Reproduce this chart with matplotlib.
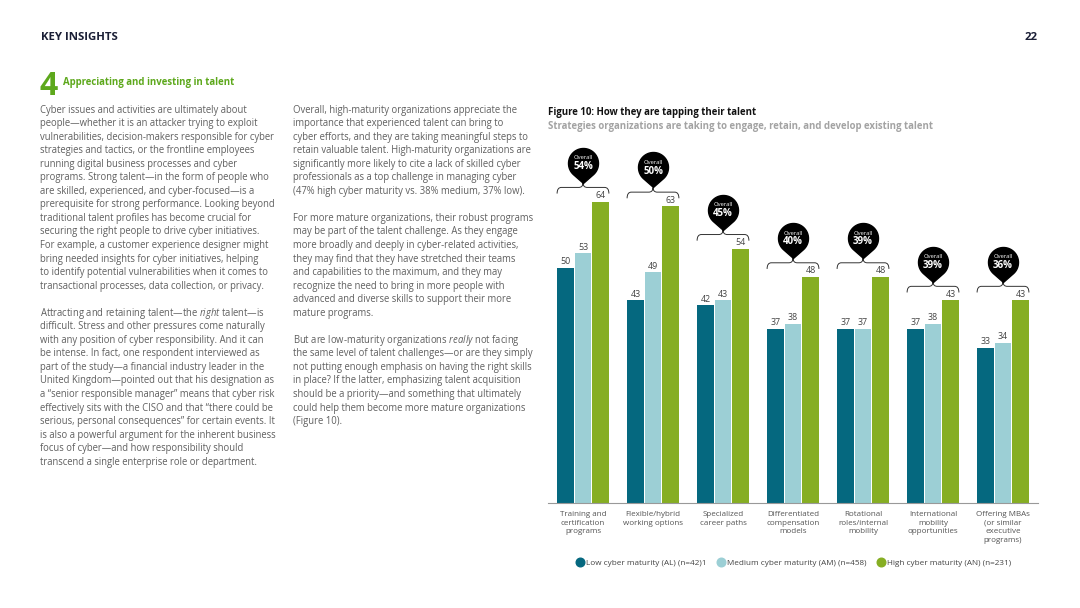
import numpy as np
import matplotlib.pyplot as plt
from matplotlib.path import Path
from matplotlib.patches import PathPatch
from matplotlib.lines import Line2D

plt.rcParams['font.family'] = ['Open Sans', 'DejaVu Sans']
plt.rcParams['mathtext.fontset'] = 'custom'
plt.rcParams['mathtext.rm'] = 'Open Sans'
plt.rcParams['mathtext.it'] = 'Open Sans:italic'

# chart data
categories = ["Training and\ncertification\nprograms",
              "Flexible/hybrid\nworking options",
              "Specialized\ncareer paths",
              "Differentiated\ncompensation\nmodels",
              "Rotational\nroles/internal\nmobility",
              "International\nmobility\nopportunities",
              "Offering MBAs\n(or similar\nexecutive\nprograms)"]
low = [50, 43, 42, 37, 37, 37, 33]
medium = [53, 49, 43, 38, 37, 38, 34]
high = [64, 63, 54, 48, 48, 43, 43]
overall = [54, 50, 45, 40, 39, 39, 36]
series_names = ["Low cyber maturity (AL) (n=42)1",
                "Medium cyber maturity (AM) (n=458)",
                "High cyber maturity (AN) (n=231)"]
colors = ['#05687f', '#9ccfd5', '#86ae23']

col1 = ["Cyber issues and activities are ultimately about",
        "people\u2014whether it is an attacker trying to exploit",
        "vulnerabilities, decision-makers responsible for cyber",
        "strategies and tactics, or the frontline employees",
        "running digital business processes and cyber",
        "programs. Strong talent\u2014in the form of people who",
        "are skilled, experienced, and cyber-focused\u2014is a",
        "prerequisite for strong performance. Looking beyond",
        "traditional talent profiles has become crucial for",
        "securing the right people to drive cyber initiatives.",
        "For example, a customer experience designer might",
        "bring needed insights for cyber initiatives, helping",
        "to identify potential vulnerabilities when it comes to",
        "transactional processes, data collection, or privacy.",
        "",
        "Attracting and retaining talent\u2014the $\\mathit{right}$ talent\u2014is",
        "difficult. Stress and other pressures come naturally",
        "with any position of cyber responsibility. And it can",
        "be intense. In fact, one respondent interviewed as",
        "part of the study\u2014a financial industry leader in the",
        "United Kingdom\u2014pointed out that his designation as",
        "a \u201csenior responsible manager\u201d means that cyber risk",
        "effectively sits with the CISO and that \u201cthere could be",
        "serious, personal consequences\u201d for certain events. It",
        "is also a powerful argument for the inherent business",
        "focus of cyber\u2014and how responsibility should",
        "transcend a single enterprise role or department."]

col2 = ["Overall, high-maturity organizations appreciate the",
        "importance that experienced talent can bring to",
        "cyber efforts, and they are taking meaningful steps to",
        "retain valuable talent. High-maturity organizations are",
        "significantly more likely to cite a lack of skilled cyber",
        "professionals as a top challenge in managing cyber",
        "(47% high cyber maturity vs. 38% medium, 37% low).",
        "",
        "For more mature organizations, their robust programs",
        "may be part of the talent challenge. As they engage",
        "more broadly and deeply in cyber-related activities,",
        "they may find that they have stretched their teams",
        "and capabilities to the maximum, and they may",
        "recognize the need to bring in more people with",
        "advanced and diverse skills to support their more",
        "mature programs.",
        "",
        "But are low-maturity organizations $\\mathit{really}$ not facing",
        "the same level of talent challenges\u2014or are they simply",
        "not putting enough emphasis on having the right skills",
        "in place? If the latter, emphasizing talent acquisition",
        "should be a priority\u2014and something that ultimately",
        "could help them become more mature organizations",
        "(Figure 10)."]

W, H = 1080, 608
fig = plt.figure(figsize=(W / 100, H / 100), dpi=100, facecolor='w')


def fx(px):
    return px / W


def fy(py):
    return 1 - py / H


# page header
fig.text(fx(41), fy(37), "KEY INSIGHTS", fontsize=8.2, fontweight='bold',
         color='#1b1f36', va='center')
fig.text(fx(1038), fy(37), "22", fontsize=8.2, fontweight='bold',
         color='#1b1f36', va='center', ha='right')
fig.text(fx(40), fy(95), "4", fontsize=23, fontweight='bold',
         color='#5da81c', va='baseline')
fig.text(fx(63), fy(83), "Appreciating and investing in talent", fontsize=6.9,
         fontweight='bold', color='#5da81c', va='center')

# body text columns
line_h = 13.55
body_color = '#606060'
for i, s in enumerate(col1):
    if s:
        fig.text(fx(40), fy(110 + i * line_h), s, fontsize=6.85,
                 color=body_color, va='center')
for i, s in enumerate(col2):
    if s:
        fig.text(fx(293), fy(110 + i * line_h), s, fontsize=6.85,
                 color=body_color, va='center')

# figure titles
fig.text(fx(548), fy(112), "Figure 10: How they are tapping their talent",
         fontsize=6.9, fontweight='bold', color='#111111', va='center')
fig.text(fx(548), fy(126),
         "Strategies organizations are taking to engage, retain, and develop existing talent",
         fontsize=6.9, fontweight='bold', color='#a3a3a3', va='center')

# chart
ax_top, ax_bot = 140, 503
ax = fig.add_axes([fx(548), fy(ax_bot), fx(1038) - fx(548), (ax_bot - ax_top) / H])
ax.set_xlim(-0.5, 6.5)
ax.set_ylim(0, (ax_bot - ax_top) / 4.71)

x = np.arange(len(categories))
bw = 0.23
for off, vals, c in zip([-0.25, 0, 0.25], [low, medium, high], colors):
    bars = ax.bar(x + off, vals, bw, color=c, zorder=2)
    for b, v in zip(bars, vals):
        ax.annotate(str(v), (b.get_x() + b.get_width() / 2, v), xytext=(0, 1.2),
                    textcoords='offset points', ha='center', va='bottom',
                    fontsize=6.4, color='#444444')

# pin marker: circle with a point at the bottom
d = 1.33
t0 = -np.arcsin(1 / d)
t = np.linspace(t0, np.pi - t0, 60)
verts = [(0, -d)] + list(zip(np.cos(t), np.sin(t))) + [(0, -d)]
codes = [Path.MOVETO] + [Path.LINETO] * 60 + [Path.CLOSEPOLY]
pin = Path(verts, codes)
ms = 2 * d * 15 * 0.72

for xi, g, o in zip(x, high, overall):
    yl = g + 3.0
    hw = 0.37
    bp = Path([(xi - hw, yl - 1.3), (xi - hw, yl), (xi - hw + 0.06, yl),
               (xi - 0.06, yl), (xi, yl), (xi, yl + 1.0),
               (xi, yl), (xi + 0.06, yl),
               (xi + hw - 0.06, yl), (xi + hw, yl), (xi + hw, yl - 1.3)],
              [Path.MOVETO, Path.CURVE3, Path.CURVE3,
               Path.LINETO, Path.CURVE3, Path.CURVE3,
               Path.CURVE3, Path.CURVE3,
               Path.LINETO, Path.CURVE3, Path.CURVE3])
    ax.add_patch(PathPatch(bp, fill=False, lw=0.7, ec='#333333', clip_on=False))
    yc = yl + 1.0 + 20 / 4.71
    ax.plot([xi], [yc], marker=pin, ms=ms, color='black', ls='none', clip_on=False)
    ax.annotate("Overall", (xi, yc), xytext=(0, 3.6), textcoords='offset points',
                ha='center', va='center', fontsize=4.2, color='white')
    ax.annotate(f"{o}%", (xi, yc), xytext=(0, -2.6), textcoords='offset points',
                ha='center', va='center', fontsize=7, fontweight='bold', color='white')

ax.set_xticks(x)
ax.set_xticklabels(categories, fontsize=5.8, color='#555555', linespacing=1.3)
ax.tick_params(axis='x', length=0, pad=6)
ax.set_yticks([])
for s in ['top', 'right', 'left']:
    ax.spines[s].set_visible(False)
ax.spines['bottom'].set_color('#999999')
ax.spines['bottom'].set_linewidth(0.8)

handles = [Line2D([], [], marker='o', ls='none', ms=6.2, color=c) for c in colors]
fig.legend(handles, series_names, loc='center', bbox_to_anchor=(fx(793), fy(563)),
           ncol=3, frameon=False, fontsize=5.9, handletextpad=0.2,
           columnspacing=1.2, handlelength=1.1, labelcolor='#444444')

plt.savefig('out.png', dpi=100, facecolor='w')
